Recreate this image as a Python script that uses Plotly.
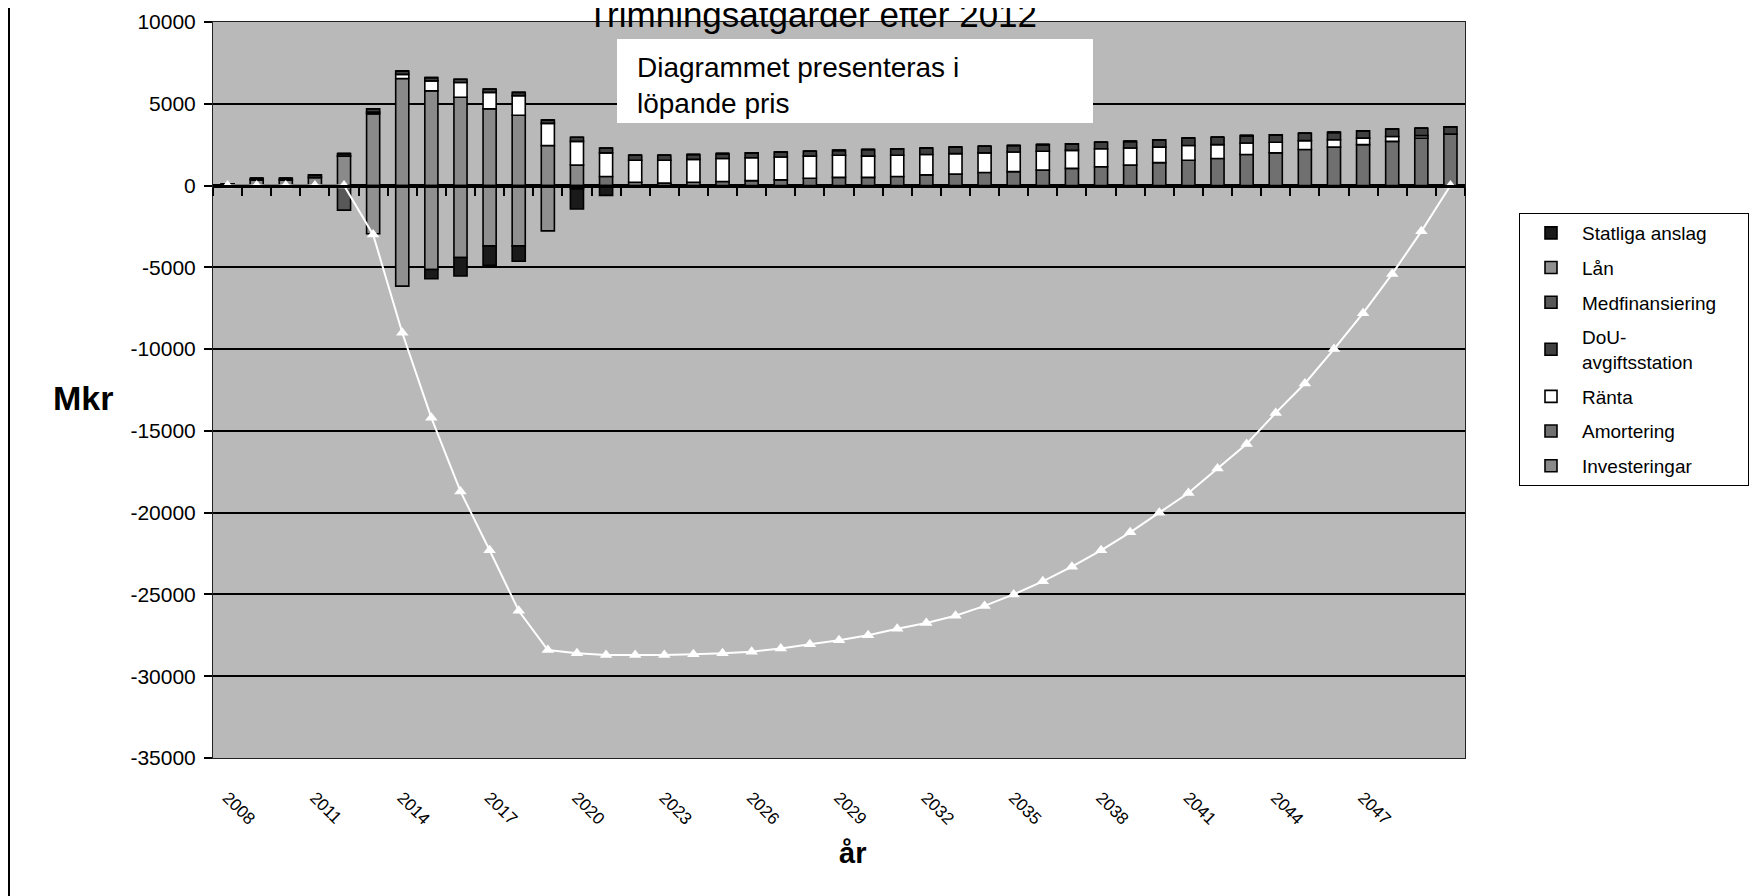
import plotly.graph_objects as go

# ---------------- data ----------------
years = list(range(2008, 2051))
year_labels = [str(y) for y in years]
tick_labels = [str(y) for y in range(2008, 2048, 3)]

investeringar = [100, 350, 350, 500, 1800, 4400, 6550, 5800, 5400, 4700, 4300, 2450, 1250,
                 0, 0, 0, 0, 0, 0, 0, 0, 0, 0, 0, 0, 0, 0, 0, 0, 0, 0, 0, 0, 0, 0, 0, 0, 0, 0, 0, 0, 0, 0]
amortering = [0, 0, 0, 0, 0, 0, 0, 0, 0, 0, 0, 0, 0,
              550, 200, 150, 200, 250, 300, 350, 450, 500, 500, 550, 650, 700, 800, 850,
              950, 1050, 1150, 1250, 1400, 1550, 1650, 1900, 2000, 2200, 2350, 2500, 2700, 2900, 3150]
ranta = [0, 0, 0, 0, 0, 100, 250, 600, 900, 1000, 1200, 1350, 1450,
         1450, 1350, 1400, 1400, 1400, 1400, 1400, 1350, 1350, 1300, 1300, 1250, 1250, 1200, 1200,
         1150, 1100, 1100, 1050, 950, 900, 850, 700, 650, 550, 450, 400, 300, 150, 0]
dou = [0, 100, 100, 150, 150, 200, 200, 200, 200, 200, 200, 200, 250,
       300, 300, 300, 300, 300, 300, 300, 300, 300, 400, 400, 400, 400, 400, 400,
       400, 400, 400, 400, 450, 450, 450, 450, 450, 450, 450, 450, 450, 450, 450]
medfinansiering = [0, 0, 0, 0, -1500, 0, 0, 0, 0, 0, 0, 0, 0,
                   0, 0, 0, 0, 0, 0, 0, 0, 0, 0, 0, 0, 0, 0, 0, 0, 0, 0, 0, 0, 0, 0, 0, 0, 0, 0, 0, 0, 0, 0]
lan = [0, 0, 0, 0, 0, -2950, -6150, -5130, -4400, -3690, -3690, -2770, -200,
       -100, 0, 0, 0, 0, 0, 0, 0, 0, 0, 0, 0, 0, 0, 0, 0, 0, 0, 0, 0, 0, 0, 0, 0, 0, 0, 0, 0, 0, 0]
statliga = [0, 0, 0, 0, 0, 0, 0, -570, -1130, -1190, -940, 0, -1230,
            -500, 0, 0, 0, 0, 0, 0, 0, 0, 0, 0, 0, 0, 0, 0, 0, 0, 0, 0, 0, 0, 0, 0, 0, 0, 0, 0, 0, 0, 0]
skuld = [0, 0, 0, 0, 0, -3000, -9000, -14200, -18700, -22300, -26000, -28400, -28600,
         -28700, -28700, -28700, -28650, -28600, -28500, -28300, -28050, -27800, -27500, -27100,
         -26750, -26300, -25700, -25000, -24200, -23300, -22300, -21200, -20000, -18800, -17300,
         -15800, -13900, -12100, -10000, -7800, -5400, -2800, 0]

y_ticks = list(range(-35000, 10001, 5000))

# (name, values, colour, legend rank)
series = [
    ("Investeringar", investeringar, "#8a8a8a", 7),
    ("Amortering", amortering, "#707070", 6),
    ("Ränta", ranta, "#ffffff", 5),
    ("DoU-<br>avgiftsstation", dou, "#404040", 4),
    ("Medfinansiering\u00a0\u00a0\u00a0\u00a0\u00a0", medfinansiering, "#585858", 3),
    ("Lån", lan, "#909090", 2),
    ("Statliga anslag", statliga, "#1a1a1a", 1),
]

FONT = "Liberation Sans, Arial, sans-serif"

fig = go.Figure()
for name, vals, color, rank in series:
    fig.add_trace(go.Bar(
        x=year_labels, y=vals, name=name, legendgroup=name, legendrank=rank,
        marker=dict(color=color, line=dict(color="black", width=1.6)),
    ))

fig.add_trace(go.Scatter(
    x=list(range(len(years))), y=skuld, xaxis="x2", yaxis="y",
    mode="lines+markers", showlegend=False,
    line=dict(color="white", width=2),
    marker=dict(symbol="triangle-up", size=11, color="white"),
))

# screen coordinates (page has an 8px body margin)
OFF = 8
W, H = 1750, 888
PL, PR, PT, PB = 213, 1465, 22, 758          # plot area on screen
L, R, T, B = PL - OFF, W - (PR - OFF), PT - OFF, H - (PB - OFF)
pw, ph = PR - PL, PB - PT
def px(x):
    return (x - PL) / pw
def py(y):
    return (PB - y) / ph

fig.update_layout(
    width=W, height=H,
    margin=dict(l=L, r=R, t=T, b=B, pad=0, autoexpand=False),
    paper_bgcolor="white", plot_bgcolor="#b9b9b9",
    font=dict(family=FONT, color="black"),
    barmode="relative", bargap=0.55,
    xaxis=dict(type="category", range=[-0.5, len(years) - 0.5],
               tickmode="array", tickvals=tick_labels, ticktext=tick_labels,
               tickangle=45, ticks="", showline=True, mirror=True,
               linecolor="#222", linewidth=1, showgrid=False,
               tickfont=dict(size=17), ticklabelstandoff=22),
    xaxis2=dict(overlaying="x", anchor="free", position=35000 / 45000, side="bottom",
                range=[-0.5, len(years) - 0.5], tickmode="linear", tick0=-0.5, dtick=1,
                ticks="outside", ticklen=8, tickwidth=2, tickcolor="black",
                showticklabels=False, showline=True, linecolor="black", linewidth=3,
                showgrid=False, zeroline=False),
    yaxis=dict(range=[-35000, 10000], tickmode="array", tickvals=y_ticks,
               ticktext=[str(v) for v in y_ticks],
               showgrid=True, gridcolor="black", gridwidth=2,
               zeroline=True, zerolinecolor="black", zerolinewidth=3,
               showline=True, mirror=True, linecolor="#222", linewidth=1,
               ticks="outside", ticklen=8, tickwidth=2, tickcolor="black",
               tickfont=dict(size=21), ticklabelstandoff=4),
    legend=dict(x=px(1519), y=py(213), xanchor="left", yanchor="top",
                bgcolor="white", bordercolor="black", borderwidth=1,
                font=dict(size=19), traceorder="grouped", tracegroupgap=7,
                itemwidth=52),
    showlegend=True,
)

# white note box (decorative background) + its text
fig.add_shape(type="rect", xref="paper", yref="paper", layer="above",
              x0=px(617), x1=px(1093), y0=py(123), y1=py(39),
              fillcolor="white", line=dict(width=0))
fig.add_annotation(text="Diagrammet presenteras i<br>löpande pris", xref="paper", yref="paper",
                   x=px(635), y=py(85), xanchor="left", yanchor="middle", align="left",
                   showarrow=False, font=dict(size=28))
fig.add_annotation(text="Trimningsåtgärder efter 2012", xref="paper", yref="paper",
                   x=px(812), y=py(36), xanchor="center", yanchor="bottom",
                   showarrow=False, font=dict(size=35))
fig.add_annotation(text="<b>Mkr</b>", xref="paper", yref="paper", x=px(83), y=py(398),
                   xanchor="center", yanchor="middle", showarrow=False, font=dict(size=34))
fig.add_annotation(text="<b>år</b>", xref="paper", yref="paper", x=px(852), y=py(853),
                   xanchor="center", yanchor="middle", showarrow=False, font=dict(size=29))
fig.add_shape(type="line", xref="paper", yref="paper", x0=px(9), x1=px(9), y0=py(896), y1=py(0),
              line=dict(color="black", width=2))

fig.write_html("out.html")
